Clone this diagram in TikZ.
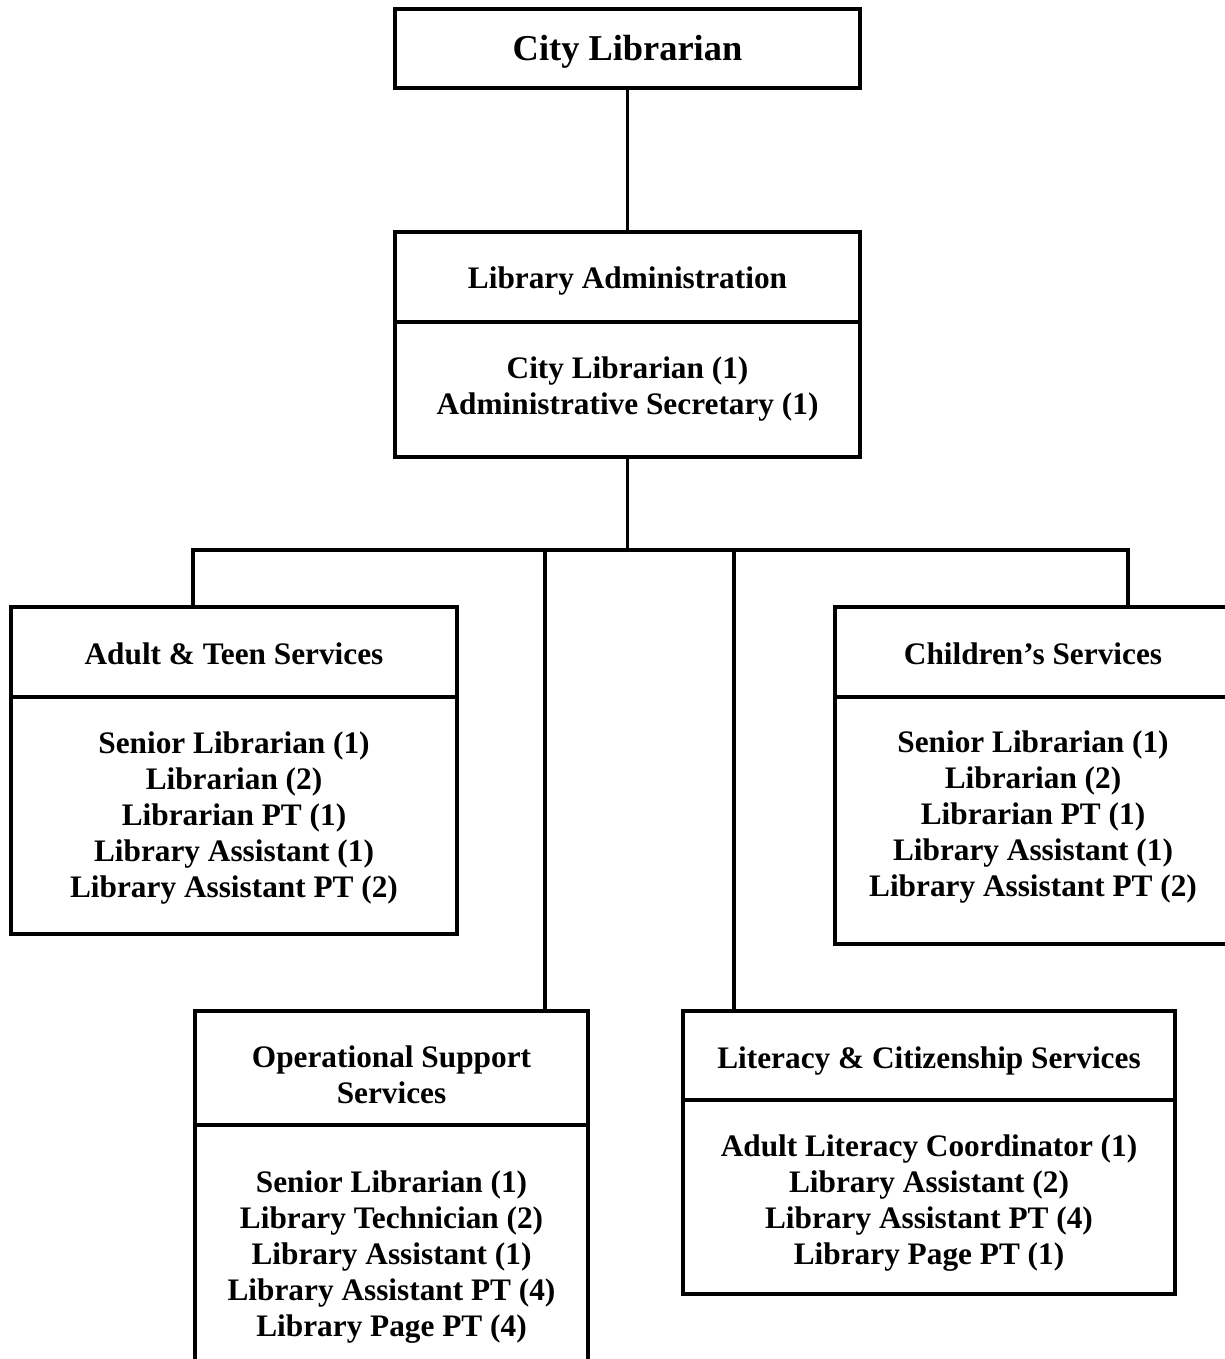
\documentclass[tikz,border=0pt]{standalone}
\usepackage{fontspec}
\setmainfont{Liberation Serif}
% zero-width struts that nudge a node's text down (\dropby) or up (\liftby) inside its box
\newcommand\dropby[1]{\rule{0pt}{\dimexpr 22pt+#1pt*2\relax}}
\newcommand\liftby[1]{\rule[-\dimexpr 7pt+#1pt*2\relax]{0pt}{0pt}}
\begin{document}
\begin{tikzpicture}[x=1pt,y=-1pt,
  box/.style={draw, rectangle, line width=3.4pt, inner sep=0pt, outer sep=0pt, align=center,
    font=\bfseries\fontsize{31.3}{36}\selectfont},
  link/.style={draw, line width=3.4pt, line join=miter}]
\useasboundingbox (0,0) rectangle (1225,1359);
\clip (0,0) rectangle (1225,1359);

% top of the hierarchy
\node[box, minimum width=465pt, minimum height=79pt,
      font=\bfseries\fontsize{36.4}{42}\selectfont] (chief) at (627.5,48.5) {\dropby{5}City Librarian};

% administration
\node[box, minimum width=465pt, minimum height=90pt] (adminT) at (627.5,277) {\dropby{4}Library Administration};
\node[box, minimum width=465pt, minimum height=135pt] (adminB) at (627.5,389.5)
  {City Librarian (1)\\Administrative Secretary (1)};

% adult & teen services
\node[box, minimum width=446pt, minimum height=90pt] (adultT) at (234,652) {\dropby{2}Adult \& Teen Services};
\node[box, minimum width=446pt, minimum height=237pt] (adultB) at (234,815.5)
  {\dropby{2}Senior Librarian (1)\\Librarian (2)\\Librarian PT (1)\\Library Assistant (1)\\Library Assistant PT (2)};

% children's services
\node[box, minimum width=396pt, minimum height=90pt] (kidsT) at (1033,652) {\dropby{2}Children’s Services};
\node[box, minimum width=396pt, minimum height=247pt] (kidsB) at (1033,820.5)
  {Senior Librarian (1)\\Librarian (2)\\Librarian PT (1)\\Library Assistant (1)\\Library Assistant PT (2)\liftby{3}};

% operational support services
\node[box, minimum width=393pt, minimum height=114pt] (opsT) at (391.5,1068)
  {\dropby{7}Operational Support\\Services};
\node[box, minimum width=393pt, minimum height=258pt] (opsB) at (391.5,1254)
  {\dropby{3}Senior Librarian (1)\\Library Technician (2)\\Library Assistant (1)\\Library Assistant PT (4)\\Library Page PT (4)};

% literacy & citizenship services
\node[box, minimum width=492pt, minimum height=89pt] (litT) at (929,1055.5)
  {\dropby{5}Literacy \& Citizenship Services};
\node[box, minimum width=492pt, minimum height=194pt] (litB) at (929,1197)
  {\dropby{6}Adult Literacy Coordinator (1)\\Library Assistant (2)\\Library Assistant PT (4)\\Library Page PT (1)};

% connector bus
\coordinate (hub) at (627.5,550);
\coordinate (busL) at (193,550);
\coordinate (busR) at (1128,550);
\coordinate (dropOps) at (545,550);
\coordinate (dropLit) at (734,550);

\draw[link] (chief.south) -- (adminT.north);
\draw[link] (adminB.south) -- (hub);
\draw[link] (busL |- adultT.north) -- (busL) -- (busR) -- (busR |- kidsT.north);
\draw[link] (dropOps) -- (dropOps |- opsT.north);
\draw[link] (dropLit) -- (dropLit |- litT.north);
\end{tikzpicture}
\end{document}
